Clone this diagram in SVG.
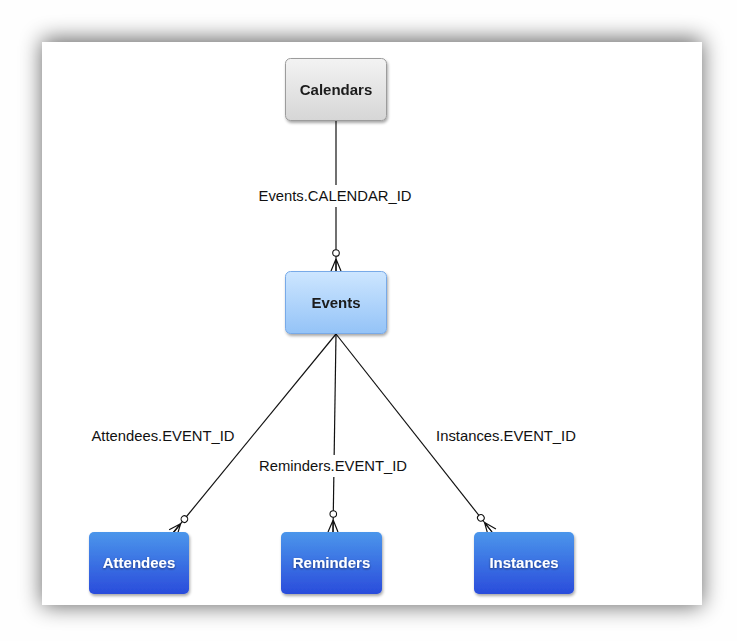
<svg xmlns="http://www.w3.org/2000/svg" width="737" height="641" viewBox="0 0 737 641">
<defs>
<style>
.lbl{font-family:"Liberation Sans",Arial,Helvetica,sans-serif;font-size:14.8px;fill:#111;text-anchor:middle}
.nt{font-family:"Liberation Sans",Arial,Helvetica,sans-serif;font-size:15px;font-weight:bold;text-anchor:middle}
.dark{fill:#1a1a1a}
.light{fill:#fff}
.conn{stroke:#111;stroke-width:1.2;fill:none}
</style>
<filter id="panelShadow" x="-20%" y="-20%" width="140%" height="140%">
<feGaussianBlur stdDeviation="11"/>
</filter>
<filter id="nodeShadow" x="-20%" y="-20%" width="140%" height="150%">
<feGaussianBlur in="SourceAlpha" stdDeviation="1.5"/>
<feOffset dx="1" dy="2" result="b"/>
<feComponentTransfer><feFuncA type="linear" slope="0.35"/></feComponentTransfer>
<feMerge><feMergeNode/><feMergeNode in="SourceGraphic"/></feMerge>
</filter>
<filter id="txtShadow" x="-10%" y="-30%" width="120%" height="160%">
<feGaussianBlur in="SourceAlpha" stdDeviation="0.8"/>
<feOffset dx="0" dy="1" result="b"/>
<feComponentTransfer><feFuncA type="linear" slope="0.5"/></feComponentTransfer>
<feMerge><feMergeNode/><feMergeNode in="SourceGraphic"/></feMerge>
</filter>
<linearGradient id="gGray" x1="0" y1="0" x2="0" y2="1">
<stop offset="0" stop-color="#f3f3f3"/><stop offset="1" stop-color="#d6d6d6"/>
</linearGradient>
<linearGradient id="gLight" x1="0" y1="0" x2="0" y2="1">
<stop offset="0" stop-color="#cde6ff"/><stop offset="1" stop-color="#94c3f7"/>
</linearGradient>
<linearGradient id="gBlue" x1="0" y1="0" x2="0" y2="1">
<stop offset="0" stop-color="#4b96eb"/><stop offset="1" stop-color="#2a4cdb"/>
</linearGradient>
<marker id="crow" viewBox="-24 -8 26 16" refX="0" refY="0" markerWidth="26" markerHeight="16" markerUnits="userSpaceOnUse" orient="auto">
<path d="M-12,0 L0,-5 M-12,0 L0,0 M-12,0 L0,5" stroke="#111" stroke-width="1.2" fill="none"/>
<circle cx="-18" cy="0" r="3.3" fill="#fff" stroke="#111" stroke-width="1.1"/>
</marker>
</defs>
<rect width="737" height="641" fill="#fefefe"/>
<rect x="42" y="39" width="660" height="567" fill="#000" opacity="0.6" filter="url(#panelShadow)"/>
<rect x="42" y="42" width="660" height="563" fill="#fff"/>

<g id="connectors">
<line class="conn" x1="336" y1="120" x2="336" y2="271" marker-end="url(#crow)"/>
<line class="conn" x1="336" y1="334" x2="173" y2="533" marker-end="url(#crow)"/>
<line class="conn" x1="336" y1="334" x2="333" y2="532" marker-end="url(#crow)"/>
<line class="conn" x1="336" y1="334" x2="492" y2="532" marker-end="url(#crow)"/>
<rect x="254" y="185" width="162" height="22" fill="#fff"/>
<text class="lbl" x="335" y="201">Events.CALENDAR_ID</text>
<text class="lbl" x="163" y="441">Attendees.EVENT_ID</text>
<rect x="254" y="455" width="158" height="22" fill="#fff"/>
<text class="lbl" x="333" y="471">Reminders.EVENT_ID</text>
<text class="lbl" x="506" y="441">Instances.EVENT_ID</text>
</g>

<g id="calendars" filter="url(#nodeShadow)">
<rect x="285.5" y="58.5" width="101" height="62" rx="5" fill="url(#gGray)" stroke="#9c9c9c"/>
<text class="nt dark" x="336" y="95">Calendars</text>
</g>
<g id="events" filter="url(#nodeShadow)">
<rect x="285.5" y="271.5" width="101" height="62" rx="5" fill="url(#gLight)" stroke="#78aae8"/>
<text class="nt dark" x="336" y="308">Events</text>
</g>
<g id="attendees" filter="url(#nodeShadow)">
<rect x="89" y="532" width="100" height="62" rx="5" fill="url(#gBlue)"/>
<text class="nt light" x="139" y="568" filter="url(#txtShadow)">Attendees</text>
</g>
<g id="reminders" filter="url(#nodeShadow)">
<rect x="281" y="532" width="101" height="62" rx="5" fill="url(#gBlue)"/>
<text class="nt light" x="331.5" y="568" filter="url(#txtShadow)">Reminders</text>
</g>
<g id="instances" filter="url(#nodeShadow)">
<rect x="474" y="532" width="100" height="62" rx="5" fill="url(#gBlue)"/>
<text class="nt light" x="524" y="568" filter="url(#txtShadow)">Instances</text>
</g>
</svg>
